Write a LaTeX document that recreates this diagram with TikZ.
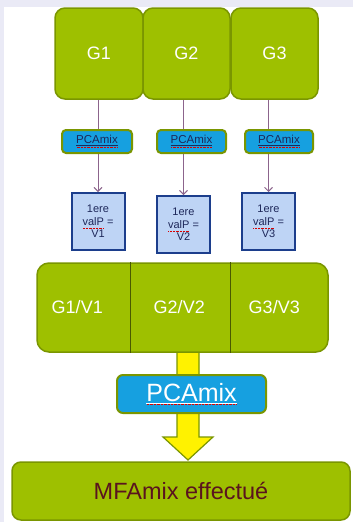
\documentclass[tikz,border=0pt]{standalone}
\usepackage{xcolor}
\usepackage{fontspec}
\setmainfont{Liberation Sans}
\usepackage{tikz}
\usetikzlibrary{calc, positioning, arrows.meta}

\definecolor{slide}{RGB}{234,234,246}
\definecolor{leaf}{RGB}{158,192,0}
\definecolor{leafdark}{RGB}{122,150,0}
\definecolor{sky}{RGB}{22,160,224}
\definecolor{valfill}{RGB}{190,212,245}
\definecolor{valborder}{RGB}{28,62,140}
\definecolor{navytext}{RGB}{30,40,90}
\definecolor{linkpurple}{RGB}{140,100,140}
\definecolor{maroon}{RGB}{90,20,30}

\newcommand{\fsz}[2]{\fontsize{#1}{#2}\selectfont}
\newcommand{\spellchk}[1]{%
    \setbox0=\hbox{#1}%
    \rlap{\raisebox{-3.4pt}{\textcolor{red!85!black}{\hbox to \wd0{\xleaders\hbox to 1.4pt{\hss\vrule width 0.7pt height 0.7pt\hss}\hfill}}}}%
    #1}

\tikzset{
    group/.style={rectangle, draw=leafdark, line width=1.5pt, fill=leaf, rounded corners=10pt, minimum width=87pt, minimum height=91pt, text=white, font=\fsz{18}{20}},
    pca/.style={rectangle, draw=leafdark, line width=2pt, fill=sky, rounded corners=4pt, minimum width=69pt, minimum height=23pt, inner sep=0pt, text=navytext, font=\fsz{11.5}{13}},
    valbox/.style={rectangle, draw=valborder, line width=2pt, fill=valfill, minimum width=53pt, minimum height=57pt, inner sep=0pt, align=center, text=navytext, font=\fsz{11}{12.5}},
    arrow/.style={-{Straight Barb[length=4pt, width=8pt]}, draw=linkpurple, line width=0.9pt},
    bar/.style={rectangle, draw=leafdark, line width=1.5pt, fill=leaf, rounded corners=12pt, minimum width=291pt, minimum height=89pt},
    divider/.style={draw=leafdark!60!black, line width=0.7pt},
    bartext/.style={text=white, font=\fsz{18}{20}, inner sep=0pt},
    bigarrow/.style={draw=leafdark, line width=1.2pt, fill=yellow, line join=miter},
    bigpca/.style={rectangle, draw=leafdark, line width=2pt, fill=sky, rounded corners=6pt, minimum width=149pt, minimum height=38pt, inner sep=0pt, text=white, font=\fsz{25}{28}},
    result/.style={rectangle, draw=leafdark, line width=1.5pt, fill=leaf, rounded corners=9pt, minimum width=338pt, minimum height=58pt, text=maroon, font=\fsz{23.5}{26}}
}

\begin{document}
\begin{tikzpicture}[x=1pt, y=-1pt]
        % Slide background
        \fill[slide] (0,0) rectangle (353,522);
        \fill[white] (4,7) rectangle (353,522);
        \useasboundingbox (0,0) rectangle (353,522);

        % Groups
        \node[group, minimum width=88pt] (G1) at (99,53.5) {G1};
        \node[group] (G2) at (186.5,53.5) {G2};
        \node[group] (G3) at (274.5,53.5) {G3};

        % First eigenvalues
        \node[valbox] (V1) at (98,221.5) {1ere\\\spellchk{valP} =\\V1};
        \node[valbox] (V2) at (183.5,224.5) {1ere\\\spellchk{valP} =\\V2};
        \node[valbox] (V3) at (268.5,221.5) {1ere\\\spellchk{valP} =\\V3};

        % Arrows
        \draw[arrow] (G1.south -| V1.north) -- (V1.north);
        \draw[arrow] (G2.south -| V2.north) -- (V2.north);
        \draw[arrow] (G3.south -| V3.north) -- (V3.north);

        % PCAmix per group
        \node[pca, minimum width=70pt] (P1) at (97,141.5) {\spellchk{\underline{PCAmix}}};
        \node[pca] (P2) at (191.5,141.5) {\spellchk{\underline{PCAmix}}};
        \node[pca, minimum width=68pt] (P3) at (279,141.5) {\spellchk{\underline{PCAmix}}};

        % Yellow arrow
        \draw[bigarrow] (177,351) -- (177,437) -- (163,437) -- (188,460) -- (213,437) -- (199,437) -- (199,351) -- cycle;

        % Weighted groups
        \node[bar] (Bar) at (182.5,307.5) {};
        \draw[divider] ([xshift=94pt]Bar.north west) -- ([xshift=94pt]Bar.south west);
        \draw[divider] ([xshift=194pt]Bar.north west) -- ([xshift=194pt]Bar.south west);
        \node[bartext] (B1) at ([xshift=41pt]Bar.west) {G1/V1};
        \node[bartext] (B2) at ([xshift=143pt]Bar.west) {G2/V2};
        \node[bartext] (B3) at ([xshift=238pt]Bar.west) {G3/V3};

        % Global PCAmix
        \node[bigpca] (PG) at (191.5,394) {\spellchk{\underline{PCAmix}}};

        % Result
        \node[result] (Res) at (181,491) {MFAmix effectué};
    \end{tikzpicture}
\end{document}
